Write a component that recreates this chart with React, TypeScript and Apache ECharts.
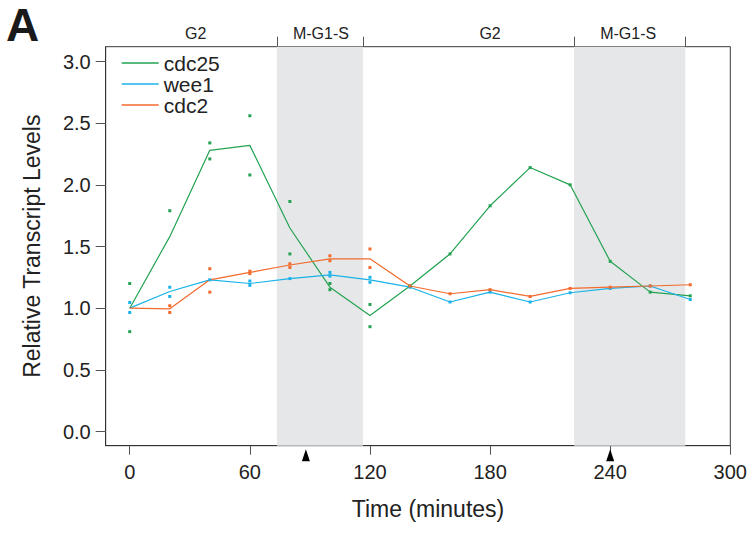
import React, { useEffect, useRef } from "react";
import * as echarts from "echarts";

const times = [0, 20, 40, 60, 80, 100, 120, 140, 160, 180, 200, 220, 240, 260, 280];
const cdc25 = [1.0, 1.58, 2.28, 2.32, 1.65, 1.17, 0.94, 1.18, 1.44, 1.83, 2.14, 2.0, 1.38, 1.13, 1.1];
const wee1 = [1.0, 1.135, 1.23, 1.2, 1.24, 1.27, 1.23, 1.17, 1.05, 1.13, 1.05, 1.125, 1.16, 1.18, 1.07];
const cdc2 = [1.0, 0.995, 1.23, 1.29, 1.35, 1.4, 1.4, 1.18, 1.117, 1.15, 1.095, 1.16, 1.17, 1.18, 1.19];

const cdc25Reps = [
  [0, 1.2], [0, 0.81], [20, 1.79], [40, 2.34], [40, 2.21], [60, 2.56], [60, 2.08],
  [80, 1.865], [80, 1.44], [100, 1.2], [100, 1.15], [120, 1.03], [120, 0.85],
];
const wee1Reps = [
  [0, 1.046], [0, 0.965], [20, 1.17], [20, 1.095], [40, 1.23], [60, 1.22], [60, 1.185],
  [80, 1.24], [100, 1.29], [100, 1.26], [120, 1.25], [120, 1.21],
];
const cdc2Reps = [
  [20, 1.02], [20, 0.965], [40, 1.32], [40, 1.13], [60, 1.3], [60, 1.28],
  [80, 1.36], [80, 1.33], [100, 1.425], [100, 1.385], [120, 1.48], [120, 1.33],
];

const xTicks = [0, 60, 120, 180, 240, 300];
const yTicks = [0, 0.5, 1.0, 1.5, 2.0, 2.5, 3.0];
const phaseBounds = [73.5, 116.5, 222, 277.5];
const phaseCenters = [33, 95.5, 180, 249];
const phaseNames = ["G2", "M-G1-S", "G2", "M-G1-S"];
const arrowTimes = [88, 240];

const X_MIN = -12;
const X_MAX = 300;
const Y_MIN = -0.115;
const Y_MAX = 3.12;

const GREEN = "#23a352";
const BLUE = "#1ab2e8";
const ORANGE = "#f26a2c";
const FONT = "'Liberation Sans', Arial, Helvetica, sans-serif";

export default function App() {
  const ref = useRef<HTMLDivElement>(null);

  useEffect(() => {
    document.body.style.margin = "0";
    const chart = echarts.init(ref.current!, null, { renderer: "svg" });
    const pairs = (vals: number[]) => times.map((t, i) => [t, vals[i]]);
    const singles = (vals: number[]) => times.map((t, i) => [t, vals[i]]).filter((p) => p[0] > 120);

    const lineSeries = (name: string, vals: number[], color: string) => ({
      name,
      type: "line",
      data: pairs(vals),
      showSymbol: false,
      symbol: "none",
      lineStyle: { color, width: 1.2 },
      itemStyle: { color },
      z: 3,
    });
    const dotSeries = (data: number[][], color: string) => ({
      type: "scatter",
      data,
      symbol: "rect",
      symbolSize: 3,
      itemStyle: { color, opacity: 1 },
      z: 4,
      silent: true,
    });

    chart.setOption({
      animation: false,
      textStyle: { fontFamily: FONT },
      grid: {
        left: 105.7,
        top: 46.7,
        right: 20.7,
        bottom: 87.3,
        show: true,
        borderColor: "#3a3a3a",
        borderWidth: 1,
        backgroundColor: "transparent",
      },
      legend: {
        orient: "vertical",
        left: 116.7,
        top: 47.5,
        itemWidth: 37,
        itemHeight: 1.5,
        itemGap: 0,
        icon: "rect",
        data: ["cdc25", "wee1", "cdc2"],
        textStyle: { fontSize: 21, color: "#222", fontFamily: FONT, lineHeight: 19.7 },
      },
      xAxis: [
        {
          type: "value",
          min: X_MIN,
          max: X_MAX,
          name: "Time (minutes)",
          nameLocation: "middle",
          nameGap: 52,
          nameTextStyle: { fontSize: 23, color: "#222", fontFamily: FONT, padding: [0, 0, 0, 20] },
          axisLine: { show: true, onZero: false, lineStyle: { color: "#333", width: 1 } },
          axisTick: { show: true, customValues: xTicks, length: 9, lineStyle: { color: "#555" } },
          axisLabel: {
            customValues: xTicks,
            fontSize: 20,
            color: "#222",
            margin: 16,
            fontFamily: FONT,
          },
          splitLine: { show: false },
        },
        {
          type: "value",
          position: "top",
          min: X_MIN,
          max: X_MAX,
          axisLine: { show: false, onZero: false },
          axisTick: { show: true, customValues: phaseBounds, length: 10, lineStyle: { color: "#555" } },
          axisLabel: {
            customValues: phaseCenters,
            formatter: (v: number) => phaseNames[phaseCenters.indexOf(v)] ?? "",
            fontSize: 16,
            color: "#222",
            margin: 5,
            fontFamily: FONT,
          },
          splitLine: { show: false },
        },
      ],
      yAxis: {
        type: "value",
        min: Y_MIN,
        max: Y_MAX,
        name: "Relative Transcript Levels",
        nameLocation: "middle",
        nameGap: 62,
        nameTextStyle: { fontSize: 23, color: "#222", fontFamily: FONT },
        axisLine: { show: true, onZero: false, lineStyle: { color: "#333", width: 1 } },
        axisTick: { show: true, customValues: yTicks, length: 10, lineStyle: { color: "#555" } },
        axisLabel: {
          customValues: yTicks,
          formatter: (v: number) => v.toFixed(1),
          fontSize: 20,
          color: "#222",
          margin: 15,
          fontFamily: FONT,
        },
        splitLine: { show: false },
      },
      graphic: [
        {
          type: "text",
          x: 6,
          y: 2,
          style: {
            text: "A",
            fontSize: 46,
            fontWeight: "bold",
            fontFamily: FONT,
            fill: "#1a1a1a",
            verticalAlign: "top",
            align: "left",
          },
        },
      ],
      series: [
        {
          type: "line",
          data: [],
          silent: true,
          z: 1,
          markArea: {
            silent: true,
            itemStyle: { color: "#e6e7e8" },
            data: [
              [{ xAxis: phaseBounds[0] }, { xAxis: phaseBounds[1] }],
              [{ xAxis: phaseBounds[2] }, { xAxis: phaseBounds[3] }],
            ],
          },
        },
        lineSeries("cdc25", cdc25, GREEN),
        lineSeries("wee1", wee1, BLUE),
        lineSeries("cdc2", cdc2, ORANGE),
        dotSeries(cdc25Reps, GREEN),
        dotSeries(wee1Reps, BLUE),
        dotSeries(cdc2Reps, ORANGE),
        dotSeries(singles(cdc25), GREEN),
        dotSeries(singles(wee1), BLUE),
        dotSeries(singles(cdc2), ORANGE),
        {
          type: "scatter",
          data: arrowTimes.map((t) => [t, Y_MIN]),
          symbol: "triangle",
          symbolSize: [8, 12],
          symbolOffset: [0, 9.5],
          itemStyle: { color: "#000", opacity: 1 },
          clip: false,
          silent: true,
          z: 5,
        },
      ],
    });
    return () => chart.dispose();
  }, []);

  return <div ref={ref} style={{ width: 751, height: 533 }} />;
}
